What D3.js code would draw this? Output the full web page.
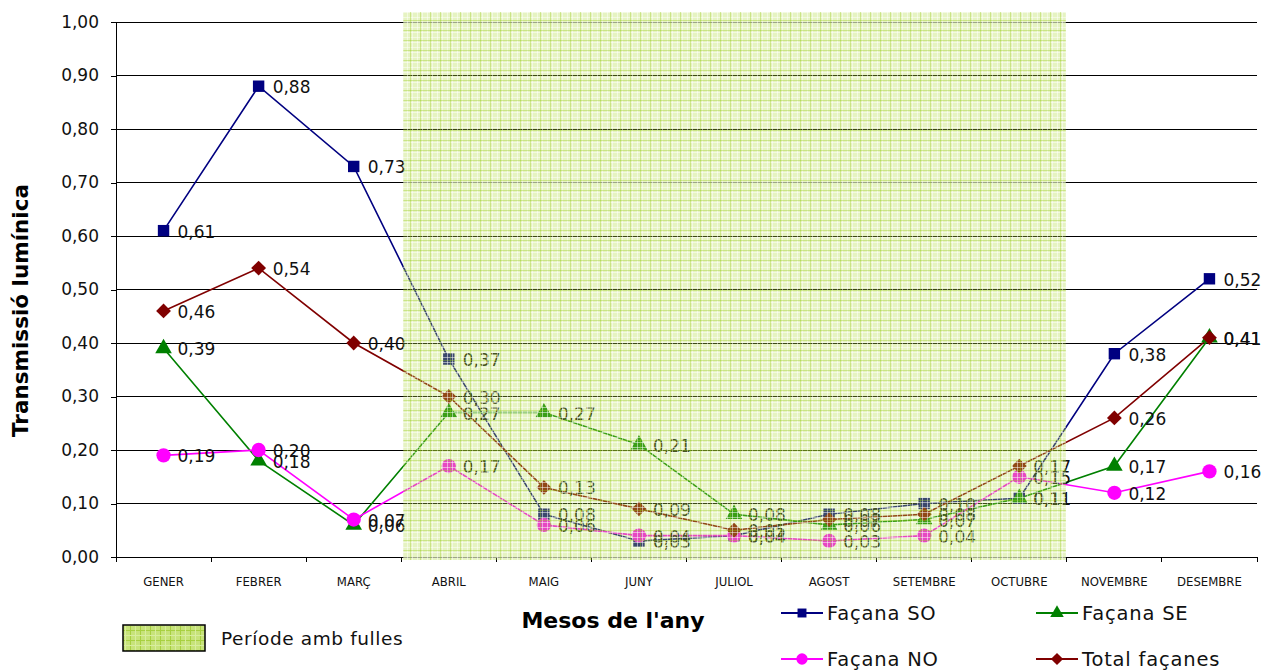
<!DOCTYPE html>
<html>
<head>
<meta charset="utf-8">
<script src="https://cdn.jsdelivr.net/npm/d3@7"></script>
<style>
  html, body { margin: 0; padding: 0; background: #fff; }
  svg { display: block; font-family: "DejaVu Sans", "Liberation Sans", sans-serif; }
</style>
</head>
<body>
<svg id="chart" width="1263" height="671"></svg>
<script>
// Months of the year (category axis)
const months = ["GENER", "FEBRER", "MARÇ", "ABRIL", "MAIG", "JUNY", "JULIOL", "AGOST", "SETEMBRE", "OCTUBRE", "NOVEMBRE", "DESEMBRE"];

// Light transmission per façade
const facanaSO = [0.61, 0.88, 0.73, 0.37, 0.08, 0.03, 0.04, 0.08, 0.10, 0.11, 0.38, 0.52];
const facanaSE = [0.39, 0.18, 0.06, 0.27, 0.27, 0.21, 0.08, 0.06, 0.07, 0.11, 0.17, 0.41];
const facanaNO = [0.19, 0.20, 0.07, 0.17, 0.06, 0.04, 0.04, 0.03, 0.04, 0.15, 0.12, 0.16];
const totalFacanes = [0.46, 0.54, 0.40, 0.30, 0.13, 0.09, 0.05, 0.07, 0.08, 0.17, 0.26, 0.41];

// Value axis ticks
const yTicks = [0, 0.1, 0.2, 0.3, 0.4, 0.5, 0.6, 0.7, 0.8, 0.9, 1.0];

// Leaf period: first and last month with leaves
const leafStart = "ABRIL";
const leafEnd = "OCTUBRE";

// Diamond drawn as a square turned 45 degrees
const symbolRhombus = {
  draw(context, size) {
    const r = Math.sqrt(size / 2);
    context.moveTo(0, -r);
    context.lineTo(r, 0);
    context.lineTo(0, r);
    context.lineTo(-r, 0);
    context.closePath();
  }
};

const series = [
  { name: "Façana SO", values: facanaSO, color: "#000080", symbol: d3.symbolSquare, size: 130, legendSize: 80 },
  { name: "Façana SE", values: facanaSE, color: "#008000", symbol: d3.symbolTriangle, size: 120, legendSize: 80 },
  { name: "Façana NO", values: facanaNO, color: "#ff00ff", symbol: d3.symbolCircle, size: 160, legendSize: 100 },
  { name: "Total façanes", values: totalFacanes, color: "#800000", symbol: symbolRhombus, size: 110, legendSize: 75 }
];

const fmt = v => d3.format(".2f")(v).replace(".", ",");

const svg = d3.select("#chart");
const plot = { left: 116, right: 1257, top: 22, bottom: 557 };

const x = d3.scaleBand().domain(months).range([plot.left, plot.right]).paddingInner(0).paddingOuter(0);
const y = d3.scaleLinear().domain([0, 1]).range([plot.bottom, plot.top]);
const cx = m => x(m) + x.bandwidth() / 2;

// Leaf-period hatch pattern
const defs = svg.append("defs");
const pat = defs.append("pattern")
  .attr("id", "leaves").attr("patternUnits", "userSpaceOnUse")
  .attr("width", 10).attr("height", 10);
pat.append("rect").attr("width", 10).attr("height", 10).attr("fill", "rgba(180,218,70,0.33)");
[2, 7].forEach(p => {
  pat.append("rect").attr("x", p).attr("y", 0).attr("width", 1).attr("height", 10).attr("fill", "rgba(255,255,255,0.5)");
  pat.append("rect").attr("x", 0).attr("y", p).attr("width", 10).attr("height", 1).attr("fill", "rgba(255,255,255,0.5)");
});
pat.append("rect").attr("x", 0).attr("y", 0).attr("width", 1).attr("height", 10).attr("fill", "rgba(150,200,20,0.35)");
pat.append("rect").attr("x", 0).attr("y", 0).attr("width", 10).attr("height", 1).attr("fill", "rgba(150,200,20,0.35)");

const patL = defs.append("pattern")
  .attr("id", "leavesLegend").attr("patternUnits", "userSpaceOnUse")
  .attr("width", 10).attr("height", 10);
patL.append("rect").attr("width", 10).attr("height", 10).attr("fill", "#c7e37a");
patL.append("rect").attr("x", 0).attr("y", 0).attr("width", 1).attr("height", 10).attr("fill", "#a8d040");
patL.append("rect").attr("x", 0).attr("y", 0).attr("width", 10).attr("height", 1).attr("fill", "#a8d040");
patL.append("rect").attr("x", 5).attr("y", 0).attr("width", 1).attr("height", 10).attr("fill", "#d8ed9e");
patL.append("rect").attr("x", 0).attr("y", 5).attr("width", 10).attr("height", 1).attr("fill", "#d8ed9e");

// Gridlines
svg.append("g").selectAll("line").data(yTicks.filter(t => t > 0)).join("line")
  .attr("x1", plot.left).attr("x2", plot.right)
  .attr("y1", d => y(d)).attr("y2", d => y(d))
  .attr("stroke", "#000").attr("stroke-width", 1).attr("shape-rendering", "crispEdges");

// Y axis
const yAxis = d3.axisLeft(y).tickValues(yTicks).tickFormat(fmt).tickSize(5).tickPadding(12);
const gy = svg.append("g").attr("transform", `translate(${plot.left},0)`).call(yAxis);
gy.select(".domain").attr("stroke", "#000").attr("shape-rendering", "crispEdges");
gy.selectAll(".tick line").attr("stroke", "#000").attr("shape-rendering", "crispEdges");
gy.selectAll("text").attr("font-size", 17).attr("fill", "#111").attr("font-family", "DejaVu Sans");

// X axis: ticks sit on band boundaries
const boundaries = months.map(m => x(m)).concat([plot.right]);
const gx = svg.append("g");
gx.append("line").attr("x1", plot.left).attr("x2", plot.right)
  .attr("y1", plot.bottom).attr("y2", plot.bottom)
  .attr("stroke", "#000").attr("shape-rendering", "crispEdges");
gx.selectAll("line.tk").data(boundaries).join("line").attr("class", "tk")
  .attr("x1", d => d).attr("x2", d => d)
  .attr("y1", plot.bottom).attr("y2", plot.bottom + 5)
  .attr("stroke", "#000").attr("shape-rendering", "crispEdges");
gx.selectAll("text").data(months).join("text")
  .attr("x", d => cx(d)).attr("y", 586)
  .attr("text-anchor", "middle")
  .attr("font-family", "DejaVu Sans Condensed, DejaVu Sans")
  .attr("font-stretch", "condensed")
  .attr("font-size", 13).attr("fill", "#111")
  .text(d => d);

// Series lines, markers and value labels
const line = d3.line().x((d, i) => cx(months[i])).y(d => y(d));
series.forEach(s => {
  const g = svg.append("g");
  g.append("path").datum(s.values).attr("d", line)
    .attr("fill", "none").attr("stroke", s.color).attr("stroke-width", 1.6);
});
series.forEach(s => {
  const g = svg.append("g");
  g.selectAll("path").data(s.values).join("path")
    .attr("d", d3.symbol().type(s.symbol).size(s.size))
    .attr("transform", (d, i) => `translate(${cx(months[i])},${y(d)})`)
    .attr("fill", s.color);
});
series.forEach(s => {
  const g = svg.append("g");
  g.selectAll("text").data(s.values).join("text")
    .attr("x", (d, i) => cx(months[i]) + 14)
    .attr("y", d => y(d) + 7)
    .attr("font-size", 17).attr("fill", "#111")
    .text(d => fmt(d));
});

// Leaf period overlay
const x0 = x(leafStart) + 2;
const x1 = x(leafEnd) + x.bandwidth() - 1;
svg.append("rect")
  .attr("x", x0).attr("y", 12)
  .attr("width", x1 - x0).attr("height", plot.bottom + 3 - 12)
  .attr("fill", "url(#leaves)");

// Axis titles
svg.append("text")
  .attr("transform", `translate(28,${(plot.top + plot.bottom) / 2 + 21}) rotate(-90)`)
  .attr("text-anchor", "middle").attr("font-weight", "bold").attr("font-size", 21.5).attr("fill", "#000")
  .text("Transmissió lumínica");
svg.append("text")
  .attr("x", 613).attr("y", 628)
  .attr("text-anchor", "middle").attr("font-weight", "bold").attr("font-size", 22).attr("fill", "#000")
  .text("Mesos de l'any");

// Legend: leaf period
svg.append("rect").attr("x", 123).attr("y", 625).attr("width", 82).attr("height", 26)
  .attr("fill", "url(#leavesLegend)").attr("stroke", "#000").attr("stroke-width", 1.5);
svg.append("text").attr("x", 221).attr("y", 645).attr("font-size", 18.5).attr("letter-spacing", 0.6)
  .attr("fill", "#111").text("Període amb fulles");

// Legend: series
const legendPos = [
  { x: 781, y: 613 }, { x: 1036, y: 613 },
  { x: 781, y: 659 }, { x: 1036, y: 659 }
];
series.forEach((s, i) => {
  const p = legendPos[i];
  const g = svg.append("g").attr("transform", `translate(${p.x},${p.y})`);
  g.append("line").attr("x1", 0).attr("x2", 42).attr("y1", 0).attr("y2", 0)
    .attr("stroke", s.color).attr("stroke-width", 2);
  g.append("path").attr("d", d3.symbol().type(s.symbol).size(s.legendSize))
    .attr("transform", "translate(21,0)").attr("fill", s.color);
  g.append("text").attr("x", 46).attr("y", 7).attr("font-size", 19.5).attr("letter-spacing", 0.8)
    .attr("fill", "#111").text(s.name);
});
</script>
</body>
</html>
